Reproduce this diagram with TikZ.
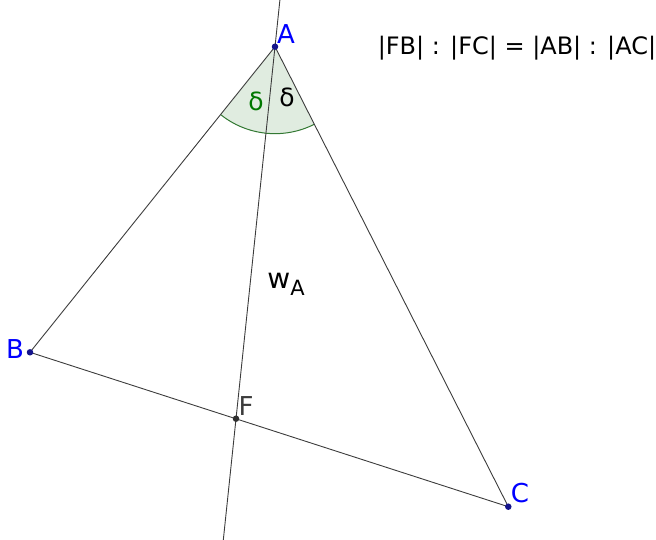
\documentclass[tikz,border=0pt]{standalone}
\usepackage{fontspec}
\setmainfont{DejaVu Sans}
\usetikzlibrary{calc}
\definecolor{ptblue}{RGB}{0,0,255}
\definecolor{ptdark}{RGB}{20,20,140}
\definecolor{linegray}{RGB}{60,60,60}
\definecolor{secfill}{RGB}{224,236,224}
\definecolor{secline}{RGB}{50,120,50}
\definecolor{dgreen}{RGB}{0,120,0}
\tikzset{
  seg/.style={draw=linegray, line width=0.9pt},
  pt/.style={circle, fill=ptdark, inner sep=0pt, minimum size=6.5pt},
  fpt/.style={circle, fill=linegray!80!black, inner sep=0pt, minimum size=6.5pt},
  lbl/.style={text=ptblue, font=\fontsize{26}{26}\selectfont, inner sep=0pt},
  flbl/.style={text=linegray, font=\fontsize{26}{26}\selectfont, inner sep=0pt},
  txt/.style={font=\fontsize{25}{25}\selectfont, inner sep=0pt}
}
\begin{document}
\begin{tikzpicture}[x=1pt,y=-1pt]
\useasboundingbox (0,0) rectangle (656,540);
\coordinate (A) at (275,46.7);
\coordinate (B) at (30,352.3);
\coordinate (C) at (508.3,506.7);
\coordinate (F) at (236,418.7);
\coordinate (wtop) at (279.9,0);
\coordinate (wbot) at (223.3,540);
% angle sector
\fill[secfill] (A) -- ($(A)!87pt!(B)$) arc[start angle=231.3, end angle=296.9, radius=87pt] -- cycle;
\draw[secline, line width=1pt] ($(A)!87pt!(B)$) arc[start angle=231.3, end angle=296.9, radius=87pt];
% lines
\draw[seg] (A) -- (B);
\draw[seg] (A) -- (C);
\draw[seg] (B) -- (C);
\draw[seg] (wtop) -- (wbot);
% points
\node[pt] (pA) at (A) {};
\node[pt] (pB) at (B) {};
\node[pt] (pC) at (C) {};
\node[fpt] (pF) at (F) {};
% labels
\node[lbl] (lA) at (286,34) {A};
\node[lbl] (lB) at (15,349) {B};
\node[lbl] (lC) at (520,493) {C};
\node[flbl] (lF) at (246,406) {F};
\node[txt, text=dgreen] (d1) at (256,101) {δ};
\node[txt] (d2) at (287,97) {δ};
\node[inner sep=0pt] (wA) at (286,284) {\fontsize{28}{28}\selectfont w\raisebox{-0.45ex}{\fontsize{21}{21}\selectfont A}};
\node[txt, font=\fontsize{24}{24}\selectfont] (form) at (517,48) {|FB| : |FC| = |AB| : |AC|};
\end{tikzpicture}
\end{document}
